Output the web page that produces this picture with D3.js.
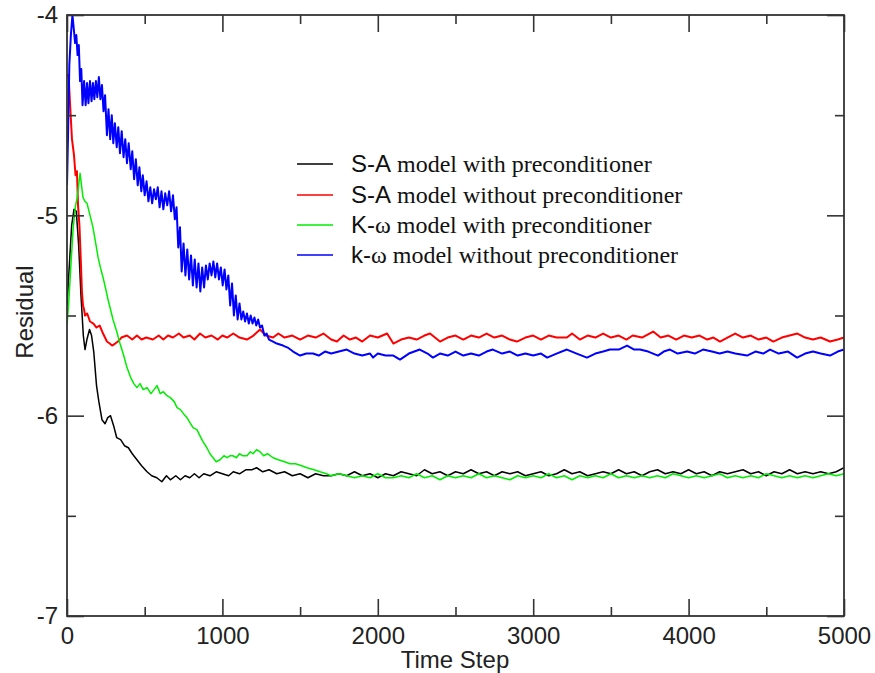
<!DOCTYPE html>
<html>
<head>
<meta charset="utf-8">
<script src="https://cdn.jsdelivr.net/npm/d3@7"></script>
<style>
  body { margin: 0; background: #fff; }
  svg { display: block; }
</style>
</head>
<body>
<div id="chart"></div>
<script>
// residual history as [time step, log residual]
const saPre = [
  [0,-5.45],[15,-5.25],[30,-5.05],[45,-4.97],[60,-4.98],[75,-5.15],[90,-5.4],[105,-5.6],[116,-5.67],[128,-5.62],
  [145,-5.57],[158,-5.6],[172,-5.68],[190,-5.85],[205,-5.93],[225,-6.02],[245,-6.04],[262,-6.01],[280,-6.0],[300,-6.05],
  [320,-6.11],[345,-6.12],[370,-6.15],[395,-6.16],[420,-6.19],[450,-6.22],[480,-6.25],[515,-6.28],[545,-6.30],[578,-6.31],
  [610,-6.33],[640,-6.30],[665,-6.32],[700,-6.30],[730,-6.32],[760,-6.30],[790,-6.31],[820,-6.29],[850,-6.31],[880,-6.29],
  [920,-6.30],[960,-6.28],[1000,-6.29],[1040,-6.30],[1070,-6.28],[1110,-6.29],[1150,-6.27],[1190,-6.27],[1220,-6.26],[1260,-6.28],
  [1300,-6.27],[1350,-6.29],[1400,-6.28],[1450,-6.30],[1500,-6.29],[1550,-6.31],[1600,-6.29],[1650,-6.30],[1700,-6.30],[1750,-6.29],
  [1800,-6.30],[1850,-6.28],[1900,-6.30],[1950,-6.29],[2000,-6.31],[2050,-6.29],[2100,-6.30],[2150,-6.28],[2200,-6.29],[2250,-6.30],
  [2300,-6.27],[2350,-6.29],[2400,-6.28],[2450,-6.30],[2500,-6.28],[2550,-6.29],[2600,-6.27],[2650,-6.29],[2700,-6.28],[2750,-6.30],
  [2800,-6.28],[2850,-6.29],[2900,-6.28],[2950,-6.30],[3000,-6.29],[3050,-6.28],[3100,-6.30],[3150,-6.29],[3200,-6.27],[3250,-6.29],
  [3300,-6.28],[3350,-6.30],[3400,-6.29],[3450,-6.28],[3500,-6.29],[3550,-6.27],[3600,-6.29],[3650,-6.28],[3700,-6.30],[3750,-6.28],
  [3800,-6.27],[3850,-6.29],[3900,-6.28],[3950,-6.29],[4000,-6.27],[4050,-6.29],[4100,-6.28],[4150,-6.30],[4200,-6.28],[4250,-6.29],
  [4300,-6.28],[4350,-6.27],[4400,-6.29],[4450,-6.28],[4500,-6.30],[4550,-6.28],[4600,-6.29],[4650,-6.27],[4700,-6.29],[4750,-6.28],
  [4800,-6.29],[4850,-6.28],[4900,-6.29],[4950,-6.28],[5000,-6.26]
]

const saNoPre = [
  [0,-4.30],[10,-4.30],[20,-4.45],[32,-4.62],[45,-4.70],[55,-4.80],[64,-4.78],[71,-4.95],[80,-5.05],[90,-5.25],
  [96,-5.38],[103,-5.45],[110,-5.47],[116,-5.50],[130,-5.49],[148,-5.53],[170,-5.54],[190,-5.56],[210,-5.55],[232,-5.59],
  [257,-5.63],[275,-5.64],[290,-5.65],[310,-5.64],[328,-5.63],[350,-5.61],[386,-5.60],[420,-5.62],[450,-5.60],[480,-5.62],
  [510,-5.61],[553,-5.62],[590,-5.60],[620,-5.62],[650,-5.60],[682,-5.61],[720,-5.59],[750,-5.61],[790,-5.60],[820,-5.62],
  [856,-5.59],[890,-5.61],[930,-5.60],[970,-5.62],[1000,-5.60],[1030,-5.61],[1070,-5.59],[1110,-5.61],[1158,-5.62],[1200,-5.60],
  [1242,-5.57],[1280,-5.60],[1326,-5.61],[1360,-5.59],[1400,-5.61],[1450,-5.60],[1500,-5.62],[1550,-5.60],[1600,-5.61],[1650,-5.59],
  [1700,-5.62],[1737,-5.63],[1780,-5.60],[1820,-5.62],[1860,-5.61],[1900,-5.63],[1950,-5.60],[2000,-5.61],[2060,-5.59],[2100,-5.64],
  [2150,-5.62],[2200,-5.61],[2250,-5.62],[2300,-5.60],[2336,-5.59],[2400,-5.63],[2450,-5.61],[2500,-5.60],[2550,-5.62],[2600,-5.60],
  [2650,-5.61],[2700,-5.59],[2750,-5.61],[2800,-5.60],[2850,-5.62],[2895,-5.63],[2950,-5.61],[3000,-5.60],[3050,-5.62],[3100,-5.60],
  [3150,-5.61],[3217,-5.61],[3250,-5.59],[3300,-5.62],[3350,-5.60],[3400,-5.61],[3450,-5.59],[3500,-5.61],[3550,-5.60],[3600,-5.62],
  [3640,-5.60],[3700,-5.61],[3772,-5.58],[3820,-5.61],[3870,-5.60],[3920,-5.62],[3970,-5.60],[4020,-5.61],[4070,-5.60],[4120,-5.62],
  [4160,-5.61],[4202,-5.63],[4250,-5.61],[4300,-5.59],[4350,-5.61],[4400,-5.60],[4450,-5.62],[4500,-5.61],[4545,-5.63],[4600,-5.61],
  [4650,-5.60],[4700,-5.59],[4750,-5.61],[4800,-5.62],[4850,-5.61],[4910,-5.63],[4960,-5.62],[5000,-5.61]
]

const kwPre = [
  [0,-5.55],[10,-5.45],[25,-5.25],[40,-5.06],[55,-4.95],[64,-4.92],[75,-4.85],[84,-4.79],[95,-4.86],[103,-4.91],
  [115,-4.93],[129,-4.94],[145,-4.99],[167,-5.06],[185,-5.14],[200,-5.21],[215,-5.26],[232,-5.31],[250,-5.37],[264,-5.42],
  [280,-5.47],[296,-5.52],[320,-5.58],[341,-5.64],[365,-5.70],[386,-5.76],[410,-5.81],[430,-5.84],[450,-5.86],[470,-5.84],
  [490,-5.87],[515,-5.86],[540,-5.89],[560,-5.87],[579,-5.85],[600,-5.89],[620,-5.88],[643,-5.90],[665,-5.91],[690,-5.93],
  [708,-5.96],[730,-5.97],[750,-5.99],[772,-6.01],[795,-6.04],[811,-6.06],[836,-6.07],[855,-6.10],[875,-6.13],[900,-6.16],
  [920,-6.19],[940,-6.21],[960,-6.23],[985,-6.22],[1010,-6.20],[1030,-6.21],[1050,-6.20],[1068,-6.20],[1090,-6.21],[1110,-6.19],
  [1130,-6.20],[1158,-6.20],[1180,-6.18],[1197,-6.19],[1220,-6.17],[1242,-6.18],[1265,-6.20],[1290,-6.19],[1326,-6.21],[1360,-6.22],
  [1400,-6.23],[1435,-6.24],[1470,-6.24],[1510,-6.25],[1544,-6.26],[1590,-6.27],[1628,-6.28],[1670,-6.29],[1700,-6.30],[1750,-6.29],
  [1800,-6.30],[1850,-6.31],[1900,-6.30],[1950,-6.31],[2000,-6.29],[2050,-6.31],[2100,-6.31],[2150,-6.30],[2200,-6.31],[2250,-6.29],
  [2300,-6.31],[2350,-6.30],[2400,-6.32],[2450,-6.30],[2500,-6.31],[2550,-6.30],[2600,-6.31],[2650,-6.29],[2700,-6.31],[2750,-6.30],
  [2800,-6.31],[2850,-6.32],[2900,-6.30],[2950,-6.31],[3000,-6.30],[3050,-6.31],[3100,-6.29],[3150,-6.31],[3200,-6.30],[3250,-6.32],
  [3300,-6.30],[3350,-6.31],[3400,-6.30],[3450,-6.31],[3500,-6.29],[3550,-6.31],[3600,-6.30],[3650,-6.31],[3700,-6.30],[3750,-6.31],
  [3800,-6.30],[3850,-6.31],[3900,-6.29],[3950,-6.30],[4000,-6.31],[4050,-6.30],[4100,-6.31],[4150,-6.30],[4200,-6.29],[4250,-6.31],
  [4300,-6.30],[4350,-6.31],[4400,-6.30],[4450,-6.31],[4500,-6.29],[4550,-6.30],[4600,-6.31],[4650,-6.30],[4700,-6.31],[4750,-6.30],
  [4800,-6.31],[4850,-6.30],[4900,-6.29],[4950,-6.30],[5000,-6.29]
]

const kwNoPre = [
  [0,-4.85],[8,-4.55],[15,-4.25],[25,-4.10],[35,-4.00],[45,-4.08],[52,-4.14],[60,-4.10],[68,-4.20],[76,-4.15],
  [84,-4.33],[92,-4.27],[100,-4.45],[110,-4.33],[120,-4.45],[129,-4.34],[138,-4.44],[148,-4.33],[158,-4.43],[167,-4.34],
  [176,-4.42],[186,-4.33],[195,-4.41],[205,-4.31],[215,-4.42],[225,-4.35],[235,-4.48],[245,-4.40],[257,-4.60],[267,-4.47],
  [278,-4.62],[288,-4.50],[298,-4.64],[308,-4.54],[320,-4.66],[330,-4.56],[341,-4.69],[352,-4.58],[364,-4.71],[375,-4.62],
  [386,-4.74],[397,-4.64],[410,-4.77],[420,-4.68],[432,-4.82],[443,-4.72],[455,-4.85],[466,-4.76],[478,-4.88],[488,-4.80],
  [500,-4.90],[512,-4.83],[524,-4.93],[536,-4.86],[548,-4.94],[560,-4.87],[572,-4.92],[584,-4.86],[596,-4.96],[608,-4.88],
  [620,-4.97],[632,-4.89],[645,-4.95],[657,-4.88],[670,-4.98],[682,-4.90],[694,-5.02],[705,-4.96],[716,-5.16],[727,-5.06],
  [738,-5.28],[750,-5.14],[762,-5.30],[774,-5.17],[786,-5.32],[798,-5.20],[810,-5.35],[822,-5.22],[834,-5.36],[846,-5.24],
  [858,-5.38],[870,-5.26],[882,-5.36],[894,-5.25],[906,-5.32],[918,-5.24],[930,-5.30],[942,-5.23],[954,-5.31],[966,-5.24],
  [978,-5.32],[990,-5.26],[1002,-5.35],[1014,-5.27],[1026,-5.37],[1038,-5.30],[1050,-5.45],[1062,-5.34],[1074,-5.50],[1086,-5.40],
  [1098,-5.52],[1110,-5.44],[1122,-5.52],[1134,-5.48],[1146,-5.53],[1158,-5.49],[1170,-5.54],[1182,-5.50],[1194,-5.54],[1206,-5.51],
  [1218,-5.55],[1230,-5.52],[1242,-5.56],[1255,-5.55],[1270,-5.60],[1285,-5.59],[1300,-5.62],[1326,-5.63],[1350,-5.64],[1390,-5.65],
  [1420,-5.66],[1455,-5.68],[1500,-5.70],[1540,-5.69],[1583,-5.69],[1620,-5.70],[1660,-5.68],[1700,-5.69],[1750,-5.68],[1800,-5.67],
  [1850,-5.69],[1900,-5.70],[1950,-5.69],[1970,-5.71],[2000,-5.69],[2050,-5.70],[2100,-5.70],[2143,-5.72],[2200,-5.69],[2270,-5.67],
  [2320,-5.69],[2355,-5.71],[2400,-5.69],[2450,-5.70],[2500,-5.68],[2550,-5.70],[2600,-5.69],[2650,-5.70],[2700,-5.68],[2740,-5.67],
  [2800,-5.69],[2850,-5.68],[2900,-5.70],[2950,-5.69],[3000,-5.70],[3050,-5.69],[3090,-5.71],[3150,-5.69],[3217,-5.67],[3280,-5.69],
  [3346,-5.71],[3400,-5.69],[3450,-5.68],[3494,-5.67],[3550,-5.67],[3604,-5.65],[3650,-5.67],[3687,-5.67],[3740,-5.68],[3803,-5.70],
  [3840,-5.68],[3880,-5.67],[3930,-5.69],[3990,-5.68],[4040,-5.69],[4093,-5.67],[4150,-5.68],[4200,-5.69],[4250,-5.68],[4300,-5.69],
  [4376,-5.70],[4430,-5.68],[4480,-5.69],[4524,-5.67],[4580,-5.69],[4640,-5.68],[4698,-5.71],[4750,-5.69],[4800,-5.68],[4850,-5.69],
  [4910,-5.70],[4960,-5.68],[5000,-5.67]
]

const seriesNames = [
  ['S-A', ' model with preconditioner'],
  ['S-A', ' model without preconditioner'],
  ['K-', 'ω model with preconditioner'],
  ['k-', 'ω model without preconditioner']
]
const seriesColors = ['#000000', '#ff0000', '#00ee00', '#0000ff']
const seriesWidths = [1.5, 2, 1.5, 2]
const allSeries = [saPre, saNoPre, kwPre, kwNoPre]

const xMajor = [0, 1000, 2000, 3000, 4000, 5000]
const xMinor = [500, 1500, 2500, 3500, 4500]
const yMajor = [-4, -5, -6, -7]
const yMinor = [-4.5, -5.5, -6.5]

const W = 875, H = 673
const plotLeft = 67, plotRight = 844, plotTop = 15, plotBottom = 616

const svg = d3.select('#chart').append('svg')
  .attr('width', W)
  .attr('height', H)

const x = d3.scaleLinear().domain([0, 5000]).range([plotLeft, plotRight])
const y = d3.scaleLinear().domain([-7, -4]).range([plotBottom, plotTop])

svg.append('clipPath').attr('id', 'plot-clip')
  .append('rect')
  .attr('x', plotLeft).attr('y', plotTop)
  .attr('width', plotRight - plotLeft).attr('height', plotBottom - plotTop)

const line = d3.line()
  .x(d => x(d[0]))
  .y(d => y(d[1]))

const plot = svg.append('g').attr('clip-path', 'url(#plot-clip)')
allSeries.forEach((s, i) => {
  plot.append('path')
    .datum(s)
    .attr('d', line)
    .attr('fill', 'none')
    .attr('stroke', seriesColors[i])
    .attr('stroke-width', seriesWidths[i])
    .attr('stroke-linejoin', 'round')
})

const tickFont = '"Liberation Sans", Arial, sans-serif'
const axisColor = '#333'

// ticks point inward on all four sides
const addAxis = (axis, tx, ty, withLabels) => {
  const g = svg.append('g')
    .attr('transform', `translate(${tx},${ty})`)
    .call(axis)
  g.select('.domain').remove()
  g.selectAll('line').attr('stroke', axisColor).attr('stroke-width', 1.6)
  g.selectAll('text')
    .attr('fill', '#222')
    .style('font-family', tickFont)
    .style('font-size', '24px')
  if (!withLabels) g.selectAll('text').remove()
  return g
}

addAxis(d3.axisBottom(x).tickValues(xMajor).tickSize(-17).tickPadding(11).tickFormat(d3.format('d')), 0, plotBottom, true)
addAxis(d3.axisBottom(x).tickValues(xMinor).tickSize(-9), 0, plotBottom, false)
addAxis(d3.axisTop(x).tickValues(xMajor).tickSize(-17), 0, plotTop, false)
addAxis(d3.axisTop(x).tickValues(xMinor).tickSize(-9), 0, plotTop, false)
addAxis(d3.axisLeft(y).tickValues(yMajor).tickSize(-17).tickPadding(9).tickFormat(d => d), plotLeft, 0, true)
addAxis(d3.axisLeft(y).tickValues(yMinor).tickSize(-9), plotLeft, 0, false)
addAxis(d3.axisRight(y).tickValues(yMajor).tickSize(-17), plotRight, 0, false)
addAxis(d3.axisRight(y).tickValues(yMinor).tickSize(-9), plotRight, 0, false)

svg.append('rect')
  .attr('x', plotLeft).attr('y', plotTop)
  .attr('width', plotRight - plotLeft).attr('height', plotBottom - plotTop)
  .attr('fill', 'none')
  .attr('stroke', axisColor)
  .attr('stroke-width', 1.8)

svg.append('text')
  .attr('x', 455)
  .attr('y', 668)
  .attr('text-anchor', 'middle')
  .style('font-family', tickFont)
  .style('font-size', '24px')
  .attr('fill', '#222')
  .text('Time Step')

svg.append('text')
  .attr('transform', 'translate(33,312) rotate(-90)')
  .attr('text-anchor', 'middle')
  .style('font-family', tickFont)
  .style('font-size', '24px')
  .attr('fill', '#222')
  .text('Residual')

// legend
const legendY = [164, 195, 225, 255]
const legend = svg.append('g')
seriesNames.forEach((n, i) => {
  legend.append('line')
    .attr('x1', 297).attr('x2', 333)
    .attr('y1', legendY[i]).attr('y2', legendY[i])
    .attr('stroke', seriesColors[i])
    .attr('stroke-width', 1.5)
  const t = legend.append('text')
    .attr('x', 351)
    .attr('y', legendY[i] + 8)
    .attr('fill', '#111')
    .style('font-size', '24px')
  t.append('tspan').style('font-family', tickFont).text(n[0])
  t.append('tspan').style('font-family', '"Liberation Serif", "Times New Roman", serif').text(n[1])
})
</script>
</body>
</html>
